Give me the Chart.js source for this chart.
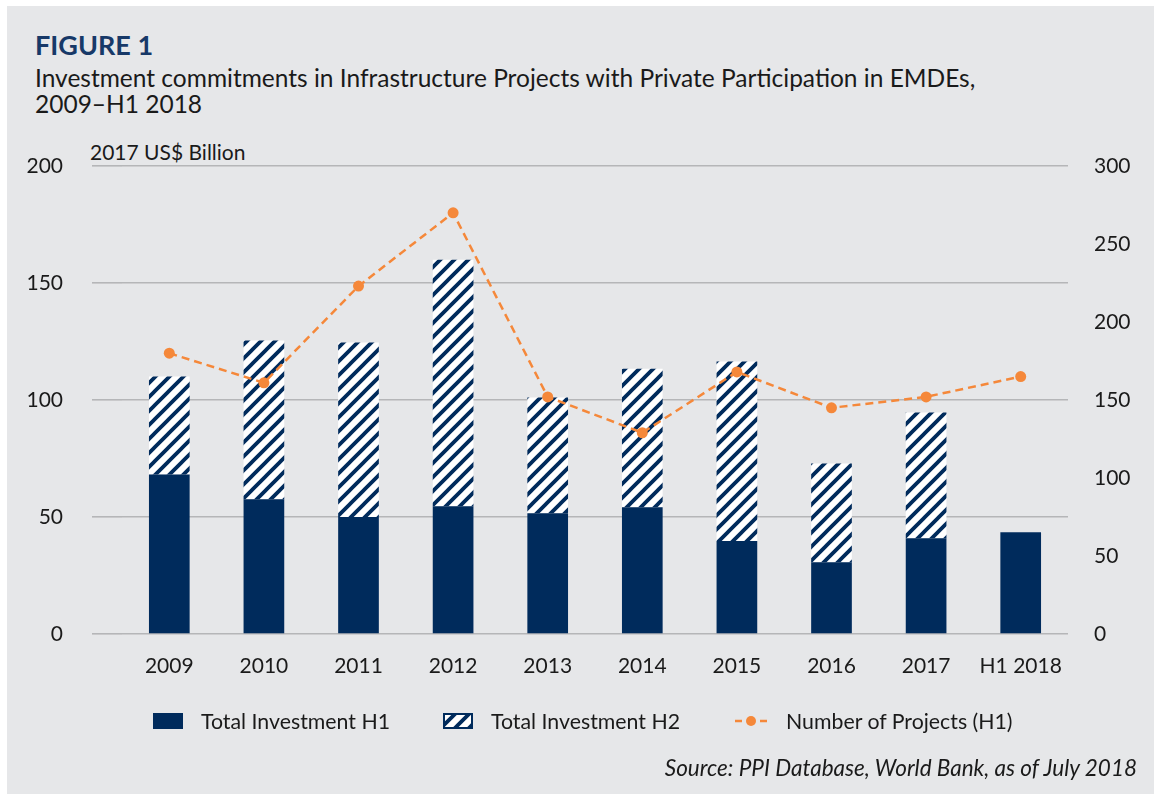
<!DOCTYPE html>
<html>
<head>
<meta charset="utf-8">
<script src="https://cdn.jsdelivr.net/npm/chart.js@4.4.0/dist/chart.umd.min.js"></script>
<style>
  html, body { margin: 0; padding: 0; background: #ffffff; }
  body { width: 1154px; height: 794px; position: relative; overflow: hidden; font-family: Lato, sans-serif; color: #1a1a1a; }
  #panel { position: absolute; left: 7px; top: 6px; right: 0; bottom: 0; background: #e6e7e9; }
  #chartBox { position: absolute; left: 0; top: 0; width: 1154px; height: 794px; }
  .txt { position: absolute; white-space: nowrap; }
  #fig { left: 35px; top: 28px; font-size: 27px; font-weight: bold; color: #173968; }
  #sub { left: 35px; top: 65px; font-size: 24.5px; line-height: 26px; }
  #unit { left: 90px; top: 139px; font-size: 21px; }
  #src { right: 17px; top: 754px; font-size: 22.5px; font-style: italic; }
  .lg { position: absolute; top: 709px; height: 24px; display: flex; align-items: center; font-size: 21.3px; }
</style>
</head>
<body>
<div id="panel"></div>
<div class="txt" id="fig">FIGURE 1</div>
<div class="txt" id="sub">Investment commitments in Infrastructure Projects with Private Participation in EMDEs,<br>2009–H1 2018</div>
<div class="txt" id="unit">2017 US$ Billion</div>
<div id="chartBox"><canvas id="chart" width="1154" height="794"></canvas></div>
<div id="legend"></div>
<div class="txt" id="src">Source: PPI Database, World Bank, as of July 2018</div>

<script>
// Daten
const years = ['2009', '2010', '2011', '2012', '2013', '2014', '2015', '2016', '2017', 'H1 2018'];
const investH1 = [68.2, 57.6, 50.0, 54.6, 51.6, 54.2, 39.7, 30.7, 40.9, 43.5];
const investH2 = [41.8, 67.8, 74.6, 105.3, 49.5, 59.2, 76.7, 42.2, 53.8, null];
const projectsH1 = [180, 161, 223, 270, 152, 129, 168, 145, 152, 165];
const seriesNames = ['Total Investment H1', 'Total Investment H2', 'Number of Projects (H1)'];
const leftTicks = [0, 50, 100, 150, 200];
const rightTicks = [0, 50, 100, 150, 200, 250, 300];

const navy = '#002b5c';
const orange = '#f5883a';

// Schraffur fuer H2
function hatch(size) {
  const c = document.createElement('canvas');
  c.width = size; c.height = size;
  const g = c.getContext('2d');
  g.fillStyle = '#ffffff';
  g.fillRect(0, 0, size, size);
  g.strokeStyle = navy;
  g.lineWidth = 3.8;
  g.beginPath();
  for (let k = -1; k <= 1; k++) {
    g.moveTo(k * size - 2, size + 2);
    g.lineTo(k * size + size + 2, -2);
  }
  g.stroke();
  return c;
}

const ctx = document.getElementById('chart').getContext('2d');
const stripes = ctx.createPattern(hatch(14), 'repeat');

const tickFont = { family: 'Lato', size: 21 };

new Chart(ctx, {
  data: {
    labels: years,
    datasets: [
      {
        type: 'line',
        label: seriesNames[2],
        data: projectsH1,
        yAxisID: 'y1',
        borderColor: orange,
        backgroundColor: orange,
        borderWidth: 2.5,
        borderDash: [8, 5],
        pointRadius: 5.5,
        pointBorderWidth: 0,
        pointBackgroundColor: orange,
        order: 0,
      },
      {
        type: 'bar',
        label: seriesNames[0],
        data: investH1,
        backgroundColor: navy,
        stack: 's',
        order: 1,
      },
      {
        type: 'bar',
        label: seriesNames[1],
        data: investH2,
        backgroundColor: stripes,
        stack: 's',
        order: 1,
      },
    ],
  },
  options: {
    responsive: false,
    animation: false,
    layout: { padding: { top: 166, left: 0, right: 0, bottom: 0 } },
    datasets: { bar: { categoryPercentage: 1, barPercentage: 0.43 } },
    plugins: { legend: { display: false }, tooltip: { enabled: false } },
    scales: {
      x: {
        stacked: true,
        grid: { display: false, drawTicks: false },
        border: { display: false },
        ticks: { font: tickFont, color: '#1a1a1a', padding: 20, maxRotation: 0 },
        afterFit: s => { s.height = 160; },
      },
      y: {
        stacked: true,
        position: 'left',
        min: 0, max: 200,
        afterBuildTicks: s => { s.ticks = leftTicks.map(v => ({ value: v })); },
        grid: { color: '#b5b6b8', lineWidth: 1.6, tickLength: 30, drawTicks: true, tickColor: '#b5b6b8' },
        border: { display: false },
        ticks: { font: tickFont, color: '#1a1a1a', padding: 29 },
        afterFit: s => { s.width = 122; },
      },
      y1: {
        position: 'right',
        min: 0, max: 300,
        afterBuildTicks: s => { s.ticks = rightTicks.map(v => ({ value: v })); },
        grid: { display: false, drawTicks: false },
        border: { display: false },
        ticks: { font: tickFont, color: '#1a1a1a', padding: 26 },
        afterFit: s => { s.width = 86; },
      },
    },
  },
});

// Legende
const legend = document.getElementById('legend');
const legendX = [153, 443, 735];
seriesNames.forEach((name, i) => {
  const item = document.createElement('div');
  item.className = 'lg';
  item.style.left = legendX[i] + 'px';
  const mark = document.createElement('canvas');
  mark.width = 32; mark.height = 18;
  const g = mark.getContext('2d');
  if (i === 0) {
    g.fillStyle = navy; g.fillRect(0, 1, 30, 16);
  } else if (i === 1) {
    g.fillStyle = g.createPattern(hatch(14), 'repeat');
    g.fillRect(0, 1, 30, 16);
    g.strokeStyle = navy; g.lineWidth = 2;
    g.strokeRect(1, 2, 28, 14);
  } else {
    g.strokeStyle = orange; g.lineWidth = 2.5;
    g.beginPath(); g.moveTo(0, 9); g.lineTo(7, 9); g.moveTo(25, 9); g.lineTo(32, 9); g.stroke();
    g.fillStyle = orange; g.beginPath(); g.arc(16, 9, 5, 0, Math.PI * 2); g.fill();
  }
  mark.style.marginRight = i === 2 ? '19px' : '16px';
  item.appendChild(mark);
  const t = document.createElement('span');
  t.textContent = name;
  item.appendChild(t);
  legend.appendChild(item);
});
</script>
</body>
</html>
